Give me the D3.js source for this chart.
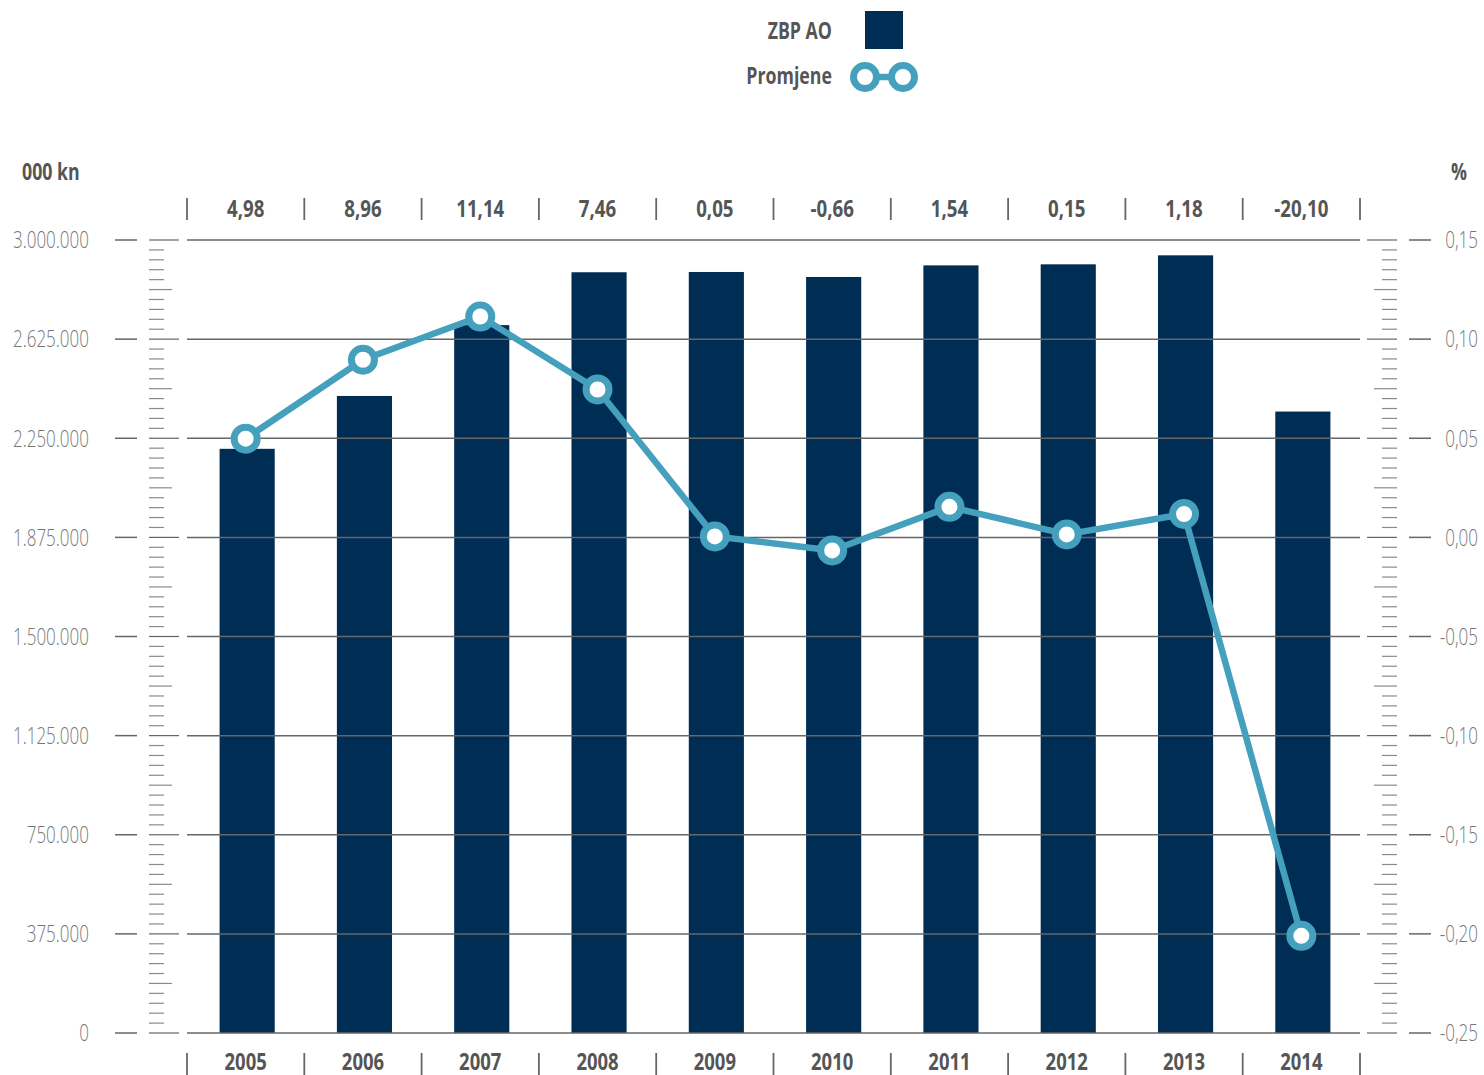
<!DOCTYPE html>
<html><head><meta charset="utf-8">
<script src="https://cdn.jsdelivr.net/npm/d3@7"></script>
<style>
body{margin:0;background:#fff;}
text{font-family:"Open Sans","Liberation Sans",sans-serif;}
</style></head>
<body><svg id="c" width="1484" height="1075"></svg>
<script>
const years = ["2005","2006","2007","2008","2009","2010","2011","2012","2013","2014"];
const zbp = [2210000,2410000,2678000,2878000,2879000,2860000,2904000,2908000,2942000,2351000];
const changes = [0.0498,0.0896,0.1114,0.0746,0.0005,-0.0066,0.0154,0.0015,0.0118,-0.2010];
const changeLabels = ["4,98","8,96","11,14","7,46","0,05","-0,66","1,54","0,15","1,18","-20,10"];
const leftTicks = [0,375000,750000,1125000,1500000,1875000,2250000,2625000,3000000];
const rightTicks = [-0.25,-0.20,-0.15,-0.10,-0.05,0,0.05,0.10,0.15];

const svg = d3.select("#c");
const L=187, R=1360, T=240, B=1033;
const barColor="#002d54", lineColor="#45a0bd", grid="#666", txt="#555", light="#777";
const SX = 0.74;

function ctext(g, x, y, str, opts){
  return g.append("text")
    .attr("transform", `translate(${x},${y}) scale(${opts.sx||SX},1)`)
    .attr("dy","0.36em")
    .attr("text-anchor", opts.anchor||"middle")
    .attr("fill", opts.fill||txt)
    .attr("font-size", opts.size||24)
    .attr("font-weight", opts.weight||"bold")
    .text(str);
}

const x = d3.scaleBand().domain(years).range([L,R]).paddingInner(0.53).paddingOuter(0.265);
const xb = d3.scaleBand().domain(years).range([L,R]);
const yL = d3.scaleLinear().domain([0,3000000]).range([B,T]);
const yR = d3.scaleLinear().domain([-0.25,0.15]).range([B,T]);
const fmtL = v => d3.format(",")(v).replace(/,/g,".");
const fmtR = v => d3.format(".2f")(v).replace(".",",").replace("−","-");

// bars
svg.append("g").selectAll("rect").data(years).join("rect")
  .attr("x",d=>x(d)+1.5).attr("width",x.bandwidth())
  .attr("y",(d,i)=>yL(zbp[i])).attr("height",(d,i)=>B-yL(zbp[i]))
  .attr("fill",barColor);

// gridlines
svg.append("g").selectAll("line").data(leftTicks).join("line")
  .attr("x1",L).attr("x2",R).attr("y1",d=>yL(d)).attr("y2",d=>yL(d))
  .attr("stroke",grid).attr("stroke-width",1.5);

// left axis
const gl = svg.append("g");
leftTicks.forEach(v=>ctext(gl, 89, yL(v), fmtL(v), {anchor:"end", fill:light, size:23, weight:300}));
gl.selectAll("line.maj").data(leftTicks).join("line").attr("class","maj")
  .attr("x1",115).attr("x2",137).attr("y1",d=>yL(d)).attr("y2",d=>yL(d))
  .attr("stroke",grid).attr("stroke-width",1.5);
const minorL = d3.range(0,81).map(i=>i*37500);
gl.selectAll("line.min").data(minorL).join("line").attr("class","min")
  .attr("x1",149).attr("x2",(d,i)=> i%10===0?179:(i%5===0?172:164))
  .attr("y1",d=>yL(d)).attr("y2",d=>yL(d))
  .attr("stroke",(d,i)=>i%10===0?grid:"#8a8a8a").attr("stroke-width",1.2);

// right axis
const gr = svg.append("g");
rightTicks.forEach(v=>ctext(gr, 1478, yR(v), fmtR(v), {anchor:"end", fill:light, size:23, weight:300}));
gr.selectAll("line.maj").data(rightTicks).join("line").attr("class","maj")
  .attr("x1",1409).attr("x2",1431).attr("y1",d=>yR(d)).attr("y2",d=>yR(d))
  .attr("stroke",grid).attr("stroke-width",1.5);
const minorR = d3.range(0,81).map(i=>-0.25+i*0.005);
gr.selectAll("line.min").data(minorR).join("line").attr("class","min")
  .attr("x1",(d,i)=> i%10===0?1367:(i%5===0?1374:1382)).attr("x2",1397)
  .attr("y1",d=>yR(d)).attr("y2",d=>yR(d))
  .attr("stroke",(d,i)=>i%10===0?grid:"#8a8a8a").attr("stroke-width",1.2);

// axis titles
ctext(svg, 22, 171, "000 kn", {anchor:"start", size:24});
ctext(svg, 1467, 171, "%", {anchor:"end", size:24});

// separators top & bottom
const seps = years.map(d=>xb(d)).concat([R]);
svg.append("g").selectAll("line").data(seps).join("line")
  .attr("x1",d=>d).attr("x2",d=>d).attr("y1",198).attr("y2",220)
  .attr("stroke",grid).attr("stroke-width",1.8);
svg.append("g").selectAll("line").data(seps).join("line")
  .attr("x1",d=>d).attr("x2",d=>d).attr("y1",1053).attr("y2",1075)
  .attr("stroke",grid).attr("stroke-width",1.8);

// top values & bottom years
const gt = svg.append("g");
changeLabels.forEach((s,i)=>ctext(gt, xb(years[i])+xb.bandwidth()/2, 208, s, {size:24, sx:0.78}));
const gb = svg.append("g");
years.forEach(s=>ctext(gb, xb(s)+xb.bandwidth()/2, 1061, s, {size:24, sx:0.77}));

// line
const pts = years.map((d,i)=>[xb(d)+xb.bandwidth()/2, yR(changes[i])]);
svg.append("path").attr("d",d3.line()(pts)).attr("fill","none")
  .attr("stroke",lineColor).attr("stroke-width",6.5).attr("stroke-linejoin","round");
svg.append("g").selectAll("circle").data(pts).join("circle")
  .attr("cx",d=>d[0]).attr("cy",d=>d[1]).attr("r",11.5)
  .attr("fill","#fff").attr("stroke",lineColor).attr("stroke-width",7);

// legend
ctext(svg, 832, 30, "ZBP AO", {anchor:"end", size:24});
svg.append("rect").attr("x",865).attr("y",11).attr("width",38).attr("height",38).attr("fill",barColor);
ctext(svg, 832, 75, "Promjene", {anchor:"end", size:24});
svg.append("line").attr("x1",865).attr("x2",903).attr("y1",77).attr("y2",77)
  .attr("stroke",lineColor).attr("stroke-width",6.5);
svg.append("g").selectAll("circle").data([865,903]).join("circle")
  .attr("cx",d=>d).attr("cy",77).attr("r",11.5)
  .attr("fill","#fff").attr("stroke",lineColor).attr("stroke-width",7);
</script></body></html>
